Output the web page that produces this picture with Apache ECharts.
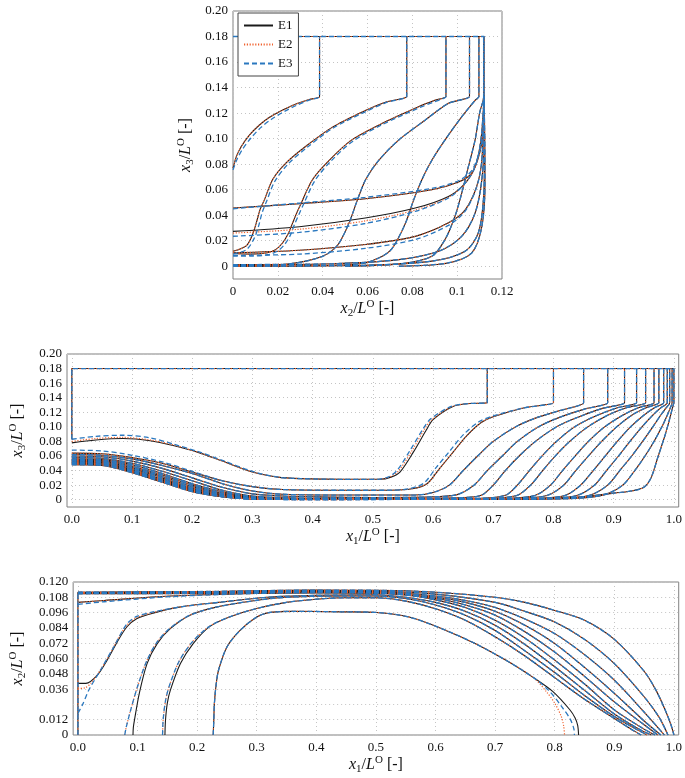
<!DOCTYPE html>
<html>
<head>
<meta charset="utf-8">
<script src="https://cdn.jsdelivr.net/npm/echarts@6/dist/echarts.min.js"></script>
<style>
  html, body { margin: 0; padding: 0; background: #fff; }
  #main { width: 685px; height: 778px; }
</style>
</head>
<body>
<div id="main"></div>
<script>
// ---------- tick values ----------
const topXTicks = [0, 0.02, 0.04, 0.06, 0.08, 0.1, 0.12];
const topYTicks = [0, 0.02, 0.04, 0.06, 0.08, 0.1, 0.12, 0.14, 0.16, 0.18, 0.2];
const midXTicks = [0, 0.1, 0.2, 0.3, 0.4, 0.5, 0.6, 0.7, 0.8, 0.9, 1.0];
const midYTicks = [0, 0.02, 0.04, 0.06, 0.08, 0.1, 0.12, 0.14, 0.16, 0.18, 0.2];
const botXTicks = [0, 0.1, 0.2, 0.3, 0.4, 0.5, 0.6, 0.7, 0.8, 0.9, 1.0];

// ---------- top panel: x2 vs x3 ----------
const topBox = [[0, 0.18], [0.112, 0.18], [0.112, 0.133]];
const topP1 = [[0, 0.0768], [0.0015, 0.0859], [0.0037, 0.0938], [0.0074, 0.1029], [0.0118, 0.1107], [0.0163, 0.1167], [0.0222, 0.1224], [0.0281, 0.1271], [0.034, 0.1307], [0.0386, 0.1328], [0.0386, 0.136], [0.0386, 0.18]];
const topP1e3 = [[0, 0.0755], [0.0017, 0.0835], [0.0042, 0.0915], [0.008, 0.1005], [0.0125, 0.1088], [0.017, 0.115], [0.0228, 0.1212], [0.0285, 0.1262], [0.034, 0.1302], [0.0386, 0.1328], [0.0386, 0.136], [0.0386, 0.18]];
const topP2 = [[0, 0.0117], [0.0059, 0.016], [0.0085, 0.024], [0.0104, 0.034], [0.012, 0.044], [0.014, 0.052], [0.0177, 0.068], [0.0237, 0.081], [0.0325, 0.094], [0.0444, 0.109], [0.059, 0.122], [0.068, 0.1285], [0.0775, 0.133], [0.0775, 0.136], [0.0775, 0.18]];
const topP2e3 = [[0, 0.0095], [0.006, 0.013], [0.0095, 0.022], [0.0115, 0.032], [0.013, 0.042], [0.015, 0.051], [0.0185, 0.066], [0.0245, 0.08], [0.033, 0.093], [0.0444, 0.108], [0.059, 0.121], [0.068, 0.128], [0.0775, 0.133], [0.0775, 0.136], [0.0775, 0.18]];
const topP3 = [[0, 0.01], [0.008, 0.0095], [0.0148, 0.0104], [0.019, 0.013], [0.022, 0.018], [0.0245, 0.025], [0.0266, 0.034], [0.0285, 0.042], [0.0303, 0.049], [0.0355, 0.068], [0.0429, 0.083], [0.053, 0.099], [0.0666, 0.112], [0.0828, 0.125], [0.09, 0.13], [0.095, 0.133], [0.095, 0.136], [0.095, 0.18]];
const topP3e3 = [[0, 0.008], [0.008, 0.008], [0.0155, 0.009], [0.02, 0.012], [0.023, 0.017], [0.0255, 0.024], [0.0275, 0.033], [0.0295, 0.041], [0.0313, 0.048], [0.0365, 0.067], [0.0435, 0.082], [0.0535, 0.098], [0.0666, 0.111], [0.0828, 0.124], [0.09, 0.129], [0.095, 0.133], [0.095, 0.136], [0.095, 0.18]];
const topP4 = [[0, 0.0005], [0.022, 0.0013], [0.0325, 0.004], [0.04, 0.0078], [0.044, 0.012], [0.0473, 0.018], [0.0518, 0.034], [0.0555, 0.052], [0.0592, 0.068], [0.065, 0.083], [0.074, 0.099], [0.0858, 0.1146], [0.096, 0.1276], [0.1055, 0.133], [0.1055, 0.136], [0.1055, 0.18]];
const topP5 = [[0, 0], [0.0444, 0.0008], [0.059, 0.0026], [0.0666, 0.0078], [0.07, 0.012], [0.0725, 0.018], [0.077, 0.034], [0.0806, 0.052], [0.0843, 0.068], [0.0887, 0.083], [0.0946, 0.099], [0.102, 0.117], [0.108, 0.13], [0.1097, 0.133], [0.1097, 0.136], [0.1097, 0.18]];
const topP6 = [[0.05, 0], [0.075, 0.002], [0.0887, 0.0078], [0.0946, 0.021], [0.099, 0.039], [0.102, 0.057], [0.105, 0.078], [0.108, 0.099], [0.11, 0.12], [0.1118, 0.133], [0.1118, 0.136], [0.1118, 0.18]];
const topQ1 = [[0, 0.0456], [0.0296, 0.049], [0.059, 0.0529], [0.0887, 0.06], [0.1006, 0.066], [0.1065, 0.073], [0.11, 0.0885], [0.1115, 0.105], [0.112, 0.133]];
const topQ1e3 = [[0, 0.045], [0.0296, 0.0495], [0.059, 0.054], [0.0887, 0.061], [0.1006, 0.067], [0.1065, 0.075], [0.11, 0.09], [0.1115, 0.106], [0.112, 0.133]];
const topQ2 = [[0, 0.0273], [0.0296, 0.031], [0.059, 0.0378], [0.0813, 0.0456], [0.0961, 0.0547], [0.1035, 0.065], [0.108, 0.078], [0.1106, 0.099], [0.112, 0.133]];
const topQ2e2 = [[0, 0.026], [0.0296, 0.029], [0.059, 0.0355], [0.0813, 0.044], [0.0961, 0.054], [0.1035, 0.065], [0.108, 0.078], [0.1106, 0.099], [0.112, 0.133]];
const topQ2e3 = [[0, 0.0235], [0.0296, 0.0265], [0.059, 0.0335], [0.0813, 0.043], [0.0961, 0.0535], [0.1035, 0.065], [0.108, 0.078], [0.1106, 0.099], [0.112, 0.133]];
const topQ3 = [[0, 0.0105], [0.0296, 0.0125], [0.059, 0.017], [0.0813, 0.0234], [0.0961, 0.034], [0.1035, 0.044], [0.1087, 0.0625], [0.111, 0.083], [0.112, 0.133]];
const topQ3e3 = [[0, 0.0085], [0.0296, 0.0095], [0.059, 0.014], [0.0813, 0.021], [0.0961, 0.032], [0.1035, 0.043], [0.1087, 0.062], [0.111, 0.083], [0.112, 0.133]];
const topQ4 = [[0, 0.0013], [0.0444, 0.002], [0.074, 0.0052], [0.0917, 0.0117], [0.102, 0.0234], [0.108, 0.0417], [0.111, 0.0677], [0.112, 0.1], [0.112, 0.133]];
const topQ5 = [[0, 0], [0.059, 0.0008], [0.0887, 0.004], [0.1035, 0.0117], [0.1094, 0.026], [0.1117, 0.052], [0.1122, 0.09], [0.112, 0.133]];
const topQ6 = [[0.074, 0], [0.096, 0.0026], [0.1065, 0.0104], [0.111, 0.031], [0.1124, 0.065], [0.1123, 0.1], [0.112, 0.133]];

// ---------- middle panel: x1 vs x3 ----------
const midBox = [[0, 0.083], [0, 0.18], [1.0, 0.18], [1.0, 0.133]];
const midA = [[0, 0.078], [0.04, 0.082], [0.085, 0.084], [0.13, 0.081], [0.17, 0.074], [0.21, 0.065], [0.25, 0.053], [0.3, 0.038], [0.342, 0.031], [0.38, 0.029], [0.45, 0.028], [0.512, 0.028], [0.53, 0.031], [0.545, 0.038], [0.567, 0.065], [0.589, 0.096], [0.6, 0.11], [0.633, 0.128], [0.66, 0.132], [0.69, 0.133], [0.69, 0.136], [0.69, 0.18]];
const midAe2 = [[0, 0.08], [0.04, 0.084], [0.085, 0.0855], [0.13, 0.082], [0.17, 0.075], [0.21, 0.065], [0.25, 0.053], [0.3, 0.038], [0.342, 0.031], [0.38, 0.029], [0.45, 0.028], [0.508, 0.028], [0.527, 0.031], [0.542, 0.039], [0.564, 0.066], [0.586, 0.097], [0.598, 0.11], [0.632, 0.128], [0.66, 0.132], [0.69, 0.133], [0.69, 0.136], [0.69, 0.18]];
const midAe3 = [[0, 0.083], [0.04, 0.087], [0.085, 0.0885], [0.13, 0.085], [0.17, 0.076], [0.21, 0.066], [0.25, 0.054], [0.3, 0.039], [0.342, 0.031], [0.38, 0.029], [0.45, 0.028], [0.505, 0.028], [0.525, 0.031], [0.54, 0.04], [0.562, 0.068], [0.584, 0.098], [0.596, 0.111], [0.63, 0.128], [0.66, 0.132], [0.69, 0.133], [0.69, 0.136], [0.69, 0.18]];
const midB = [[0, 0.064], [0.05, 0.063], [0.1, 0.058], [0.15, 0.05], [0.2, 0.038], [0.25, 0.026], [0.3, 0.018], [0.35, 0.014], [0.45, 0.013], [0.53, 0.013], [0.565, 0.015], [0.59, 0.022], [0.61, 0.042], [0.633, 0.065], [0.655, 0.087], [0.68, 0.106], [0.7, 0.114], [0.75, 0.126], [0.8, 0.133], [0.8, 0.136], [0.8, 0.18]];
const midBe3 = [[0, 0.068], [0.05, 0.067], [0.1, 0.061], [0.15, 0.052], [0.2, 0.039], [0.25, 0.026], [0.3, 0.018], [0.35, 0.014], [0.45, 0.013], [0.525, 0.013], [0.56, 0.015], [0.585, 0.023], [0.605, 0.044], [0.628, 0.067], [0.65, 0.089], [0.676, 0.107], [0.7, 0.115], [0.75, 0.126], [0.8, 0.133], [0.8, 0.136], [0.8, 0.18]];
const midC = [[0, 0.062], [0.05, 0.061], [0.1, 0.056], [0.15, 0.047], [0.2, 0.036], [0.25, 0.022], [0.3, 0.012], [0.35, 0.0075], [0.45, 0.0064], [0.57, 0.0064], [0.6, 0.01], [0.627, 0.02], [0.65, 0.04], [0.674, 0.06], [0.7, 0.08], [0.737, 0.1], [0.77, 0.112], [0.809, 0.122], [0.85, 0.133], [0.85, 0.136], [0.85, 0.18]];
const midD = [[0, 0.06], [0.05, 0.059], [0.1, 0.053], [0.15, 0.043], [0.2, 0.03], [0.25, 0.017], [0.3, 0.008], [0.35, 0.005], [0.4, 0.004], [0.5, 0.003], [0.6, 0.004], [0.64, 0.007], [0.668, 0.02], [0.69, 0.04], [0.715, 0.06], [0.74, 0.08], [0.775, 0.1], [0.81, 0.113], [0.85, 0.124], [0.89, 0.133], [0.89, 0.136], [0.89, 0.18]];
const midE = [[0, 0.058], [0.05, 0.057], [0.1, 0.05], [0.15, 0.039], [0.2, 0.026], [0.25, 0.013], [0.3, 0.005], [0.4, 0.002], [0.55, 0.002], [0.65, 0.003], [0.68, 0.006], [0.7, 0.02], [0.72, 0.04], [0.743, 0.06], [0.77, 0.08], [0.805, 0.1], [0.84, 0.113], [0.88, 0.125], [0.918, 0.133], [0.918, 0.136], [0.918, 0.18]];
const midF = [[0, 0.056], [0.05, 0.055], [0.1, 0.048], [0.15, 0.036], [0.2, 0.022], [0.25, 0.011], [0.3, 0.004], [0.4, 0.0015], [0.6, 0.0015], [0.68, 0.002], [0.72, 0.006], [0.74, 0.02], [0.76, 0.04], [0.781, 0.06], [0.805, 0.08], [0.835, 0.1], [0.87, 0.115], [0.905, 0.126], [0.938, 0.133], [0.938, 0.136], [0.938, 0.18]];
const midG = [[0, 0.055], [0.05, 0.054], [0.1, 0.046], [0.15, 0.034], [0.2, 0.02], [0.25, 0.009], [0.3, 0.003], [0.4, 0.001], [0.6, 0.001], [0.7, 0.002], [0.74, 0.006], [0.762, 0.02], [0.782, 0.04], [0.803, 0.06], [0.827, 0.08], [0.857, 0.1], [0.89, 0.116], [0.92, 0.126], [0.953, 0.133], [0.953, 0.136], [0.953, 0.18]];
const midH = [[0, 0.054], [0.05, 0.053], [0.1, 0.044], [0.15, 0.032], [0.2, 0.018], [0.25, 0.008], [0.3, 0.002], [0.4, 0.0008], [0.65, 0.001], [0.73, 0.002], [0.77, 0.006], [0.795, 0.02], [0.815, 0.04], [0.836, 0.06], [0.858, 0.08], [0.885, 0.1], [0.915, 0.116], [0.94, 0.126], [0.967, 0.133], [0.967, 0.136], [0.967, 0.18]];
const midI = [[0, 0.053], [0.05, 0.052], [0.1, 0.043], [0.15, 0.03], [0.2, 0.016], [0.25, 0.007], [0.3, 0.002], [0.4, 0.0006], [0.68, 0.001], [0.75, 0.002], [0.79, 0.006], [0.817, 0.02], [0.837, 0.04], [0.858, 0.06], [0.88, 0.08], [0.905, 0.1], [0.93, 0.116], [0.953, 0.126], [0.975, 0.133], [0.975, 0.136], [0.975, 0.18]];
const midJ = [[0, 0.052], [0.05, 0.051], [0.1, 0.041], [0.15, 0.028], [0.2, 0.015], [0.25, 0.006], [0.3, 0.0015], [0.4, 0.0005], [0.7, 0.001], [0.78, 0.002], [0.82, 0.006], [0.845, 0.02], [0.866, 0.04], [0.886, 0.06], [0.906, 0.08], [0.928, 0.1], [0.95, 0.116], [0.967, 0.126], [0.983, 0.133], [0.983, 0.136], [0.983, 0.18]];
const midK = [[0, 0.051], [0.05, 0.05], [0.1, 0.04], [0.15, 0.027], [0.2, 0.014], [0.25, 0.005], [0.3, 0.001], [0.4, 0.0004], [0.72, 0.001], [0.8, 0.002], [0.84, 0.006], [0.868, 0.02], [0.888, 0.04], [0.908, 0.06], [0.927, 0.08], [0.947, 0.1], [0.965, 0.116], [0.978, 0.126], [0.989, 0.133], [0.989, 0.136], [0.989, 0.18]];
const midL = [[0, 0.05], [0.05, 0.049], [0.1, 0.039], [0.15, 0.026], [0.2, 0.013], [0.25, 0.005], [0.3, 0.001], [0.4, 0.0003], [0.74, 0.001], [0.82, 0.002], [0.86, 0.006], [0.89, 0.02], [0.91, 0.04], [0.93, 0.06], [0.948, 0.08], [0.965, 0.1], [0.978, 0.116], [0.987, 0.126], [0.993, 0.133], [0.993, 0.136], [0.993, 0.18]];
const midM = [[0, 0.049], [0.05, 0.048], [0.1, 0.038], [0.15, 0.025], [0.2, 0.012], [0.25, 0.004], [0.3, 0.001], [0.4, 0.0002], [0.76, 0.001], [0.84, 0.002], [0.885, 0.007], [0.915, 0.02], [0.935, 0.04], [0.952, 0.06], [0.967, 0.08], [0.98, 0.1], [0.989, 0.116], [0.994, 0.126], [0.997, 0.133], [0.997, 0.136], [0.997, 0.18]];
const midN = [[0, 0.048], [0.05, 0.047], [0.1, 0.037], [0.15, 0.024], [0.2, 0.011], [0.25, 0.004], [0.3, 0.001], [0.4, 0.0002], [0.7, 0.001], [0.8, 0.002], [0.85, 0.004], [0.9, 0.009], [0.93, 0.012], [0.95, 0.017], [0.962, 0.03], [0.974, 0.06], [0.984, 0.085], [0.992, 0.108], [0.997, 0.124], [1.0, 0.133]];

// ---------- bottom panel: x1 vs x2 ----------
const botWall = [[0, 0], [0, 0.112]];
const botS1 = [[0.227, 0], [0.228, 0.012], [0.229, 0.025], [0.232, 0.04], [0.236, 0.051], [0.25, 0.069], [0.272, 0.082], [0.3, 0.0925], [0.32, 0.096], [0.36, 0.097], [0.4457, 0.0966], [0.5006, 0.0961], [0.5556, 0.0925], [0.6105, 0.0834], [0.6654, 0.072], [0.7204, 0.058], [0.7643, 0.045], [0.797, 0.034], [0.825, 0.02], [0.834, 0.0135], [0.8385, 0.0075], [0.84, 0]];
const botS1e2 = [[0.227, 0], [0.228, 0.012], [0.229, 0.025], [0.232, 0.04], [0.236, 0.051], [0.25, 0.069], [0.272, 0.082], [0.3, 0.0925], [0.32, 0.096], [0.36, 0.097], [0.4457, 0.0966], [0.5006, 0.0961], [0.5556, 0.0925], [0.6105, 0.0834], [0.6654, 0.072], [0.7204, 0.058], [0.7643, 0.045], [0.786, 0.034], [0.8, 0.025], [0.811, 0.0145], [0.815, 0.007], [0.8165, 0]];
const botS1e3 = [[0.227, 0], [0.228, 0.012], [0.229, 0.025], [0.232, 0.04], [0.236, 0.051], [0.25, 0.069], [0.272, 0.082], [0.3, 0.0925], [0.32, 0.096], [0.36, 0.097], [0.4457, 0.0966], [0.5006, 0.0961], [0.5556, 0.0925], [0.6105, 0.0834], [0.6654, 0.072], [0.7204, 0.058], [0.7643, 0.045], [0.79, 0.035], [0.812, 0.022], [0.826, 0.0125], [0.832, 0.005], [0.833, 0]];
const botS2 = [[0.146, 0], [0.147, 0.012], [0.15, 0.025], [0.155, 0.035], [0.172, 0.056], [0.194, 0.072], [0.221, 0.085], [0.254, 0.0925], [0.298, 0.099], [0.35, 0.104], [0.4, 0.1065], [0.45, 0.1076], [0.5, 0.1076], [0.55, 0.105], [0.6, 0.099], [0.65, 0.09], [0.7, 0.077], [0.75, 0.062], [0.8, 0.045], [0.85, 0.028], [0.9, 0.013], [0.93, 0.004], [0.945, 0]];
const botS2e3 = [[0.142, 0], [0.143, 0.012], [0.147, 0.027], [0.153, 0.038], [0.17, 0.058], [0.192, 0.073], [0.22, 0.085], [0.254, 0.0925], [0.298, 0.099], [0.35, 0.104], [0.4, 0.1065], [0.45, 0.1076], [0.5, 0.1076], [0.55, 0.105], [0.6, 0.099], [0.65, 0.09], [0.7, 0.077], [0.75, 0.062], [0.8, 0.045], [0.85, 0.028], [0.9, 0.013], [0.93, 0.004], [0.945, 0]];
const botS3 = [[0.0924, 0], [0.093, 0.006], [0.095, 0.012], [0.103, 0.0327], [0.116, 0.056], [0.133, 0.0717], [0.155, 0.0834], [0.188, 0.094], [0.232, 0.1003], [0.298, 0.1055], [0.35, 0.108], [0.45, 0.109], [0.5, 0.109], [0.55, 0.107], [0.6, 0.102], [0.65, 0.094], [0.7, 0.082], [0.75, 0.066], [0.8, 0.049], [0.85, 0.031], [0.9, 0.0145], [0.935, 0.005], [0.955, 0]];
const botS3e3 = [[0.0786, 0], [0.081, 0.006], [0.087, 0.017], [0.1, 0.038], [0.116, 0.0587], [0.133, 0.073], [0.155, 0.084], [0.188, 0.094], [0.232, 0.1003], [0.298, 0.1055], [0.35, 0.108], [0.45, 0.109], [0.5, 0.109], [0.55, 0.107], [0.6, 0.102], [0.65, 0.094], [0.7, 0.082], [0.75, 0.066], [0.8, 0.049], [0.85, 0.031], [0.9, 0.0145], [0.935, 0.005], [0.955, 0]];
const botS4 = [[0, 0.0405], [0.0134, 0.0405], [0.0326, 0.047], [0.049, 0.0587], [0.066, 0.073], [0.082, 0.0847], [0.0985, 0.0912], [0.126, 0.0956], [0.17, 0.1003], [0.236, 0.104], [0.318, 0.108], [0.4, 0.1095], [0.5, 0.11], [0.55, 0.108], [0.6, 0.104], [0.65, 0.097], [0.7, 0.086], [0.75, 0.071], [0.8, 0.0535], [0.85, 0.035], [0.9, 0.0165], [0.94, 0.005], [0.962, 0]];
const botS4e2 = [[0, 0.0365], [0.012, 0.037], [0.0216, 0.0405], [0.0326, 0.0475], [0.049, 0.0595], [0.066, 0.0745], [0.082, 0.086], [0.0985, 0.092], [0.126, 0.096], [0.17, 0.1003], [0.236, 0.104], [0.318, 0.108], [0.4, 0.1095], [0.5, 0.11], [0.55, 0.108], [0.6, 0.104], [0.65, 0.097], [0.7, 0.086], [0.75, 0.071], [0.8, 0.0535], [0.85, 0.035], [0.9, 0.0165], [0.94, 0.005], [0.962, 0]];
const botS4e3 = [[0, 0.017], [0.008, 0.024], [0.0183, 0.0353], [0.038, 0.051], [0.06, 0.069], [0.082, 0.087], [0.0985, 0.093], [0.126, 0.0965], [0.17, 0.1003], [0.236, 0.104], [0.318, 0.108], [0.4, 0.1095], [0.5, 0.11], [0.55, 0.108], [0.6, 0.104], [0.65, 0.097], [0.7, 0.086], [0.75, 0.071], [0.8, 0.0535], [0.85, 0.035], [0.9, 0.0165], [0.94, 0.005], [0.962, 0]];
const botS5 = [[0, 0.104], [0.044, 0.1055], [0.155, 0.109], [0.298, 0.111], [0.4, 0.1115], [0.5, 0.1112], [0.55, 0.11], [0.6, 0.106], [0.65, 0.1], [0.7, 0.09], [0.75, 0.076], [0.8, 0.0587], [0.85, 0.04], [0.9, 0.0197], [0.945, 0.006], [0.968, 0]];
const botS5e3 = [[0, 0.1025], [0.044, 0.1045], [0.155, 0.1085], [0.298, 0.111], [0.4, 0.1115], [0.5, 0.1112], [0.55, 0.11], [0.6, 0.106], [0.65, 0.1], [0.7, 0.09], [0.75, 0.076], [0.8, 0.0587], [0.85, 0.04], [0.9, 0.0197], [0.945, 0.006], [0.968, 0]];
const botT5 = [[0, 0.1108], [0.2, 0.111], [0.4, 0.112], [0.5, 0.1115], [0.6, 0.107], [0.65, 0.102], [0.7, 0.094], [0.75, 0.081], [0.8, 0.065], [0.85, 0.046], [0.9, 0.026], [0.95, 0.008], [0.973, 0]];
const botT6 = [[0, 0.1112], [0.2, 0.1115], [0.4, 0.1125], [0.5, 0.112], [0.6, 0.108], [0.65, 0.104], [0.7, 0.097], [0.75, 0.086], [0.8, 0.0717], [0.85, 0.053], [0.9, 0.0327], [0.95, 0.011], [0.978, 0]];
const botT7 = [[0, 0.1115], [0.2, 0.112], [0.4, 0.113], [0.5, 0.1125], [0.6, 0.109], [0.65, 0.1055], [0.7, 0.1], [0.75, 0.091], [0.8, 0.0795], [0.85, 0.063], [0.9, 0.043], [0.95, 0.018], [0.984, 0]];
const botT8 = [[0, 0.1118], [0.2, 0.1122], [0.4, 0.1133], [0.5, 0.113], [0.6, 0.1105], [0.7, 0.104], [0.75, 0.097], [0.8, 0.0886], [0.85, 0.075], [0.9, 0.056], [0.95, 0.03], [0.975, 0.014], [0.99, 0]];
const botT9 = [[0, 0.112], [0.2, 0.1125], [0.4, 0.1136], [0.5, 0.1135], [0.6, 0.112], [0.7, 0.108], [0.75, 0.104], [0.8, 0.0977], [0.85, 0.09], [0.9, 0.075], [0.95, 0.05], [0.97, 0.035], [0.985, 0.02], [0.995, 0.008], [1.0, 0]];

// each entry: [E1, E2, E3]
const topCurves = [
  [topBox, topBox, topBox],
  [topP1, topP1, topP1e3], [topP2, topP2, topP2e3], [topP3, topP3, topP3e3],
  [topP4, topP4, topP4], [topP5, topP5, topP5], [topP6, topP6, topP6],
  [topQ1, topQ1, topQ1e3], [topQ2, topQ2e2, topQ2e3], [topQ3, topQ3, topQ3e3],
  [topQ4, topQ4, topQ4], [topQ5, topQ5, topQ5], [topQ6, topQ6, topQ6]
];
const midCurves = [
  [midBox, midBox, midBox],
  [midA, midAe2, midAe3], [midB, midB, midBe3],
  [midC, midC, midC], [midD, midD, midD], [midE, midE, midE], [midF, midF, midF],
  [midG, midG, midG], [midH, midH, midH], [midI, midI, midI], [midJ, midJ, midJ],
  [midK, midK, midK], [midL, midL, midL], [midM, midM, midM], [midN, midN, midN]
];
const botCurves = [
  [botWall, botWall, botWall],
  [botS1, botS1e2, botS1e3], [botS2, botS2e3, botS2e3], [botS3, botS3e3, botS3e3],
  [botS4, botS4e2, botS4e3], [botS5, botS5, botS5e3],
  [botT5, botT5, botT5], [botT6, botT6, botT6], [botT7, botT7, botT7],
  [botT8, botT8, botT8], [botT9, botT9, botT9]
];

const FONT = "'Liberation Serif', 'DejaVu Serif', serif";
const names = ["E1", "E2", "E3"];
const styles = [
  { color: "#1a1a1a", width: 1.1, type: "solid" },
  { color: "#f0622e", width: 1.2, type: [1.2, 1.6] },
  { color: "#2a78bf", width: 1.3, type: [5, 3] }
];

const series = [];
const panels = [topCurves, midCurves, botCurves];
for (let v = 0; v < 3; v++) {
  panels.forEach((curves, p) => {
    curves.forEach(c => {
      series.push({
        name: names[v],
        type: "line",
        xAxisIndex: p,
        yAxisIndex: p,
        data: c[v],
        smooth: 0.3,
        symbol: "none",
        silent: true,
        color: styles[v].color,
        lineStyle: { color: styles[v].color, width: styles[v].width, type: styles[v].type }
      });
    });
  });
}

const rich = {
  i: { fontFamily: FONT, fontStyle: "italic", fontSize: 16, lineHeight: 20, color: "#111" },
  n: { fontFamily: FONT, fontSize: 16, lineHeight: 20, color: "#111" },
  sub: { fontFamily: FONT, fontSize: 11, lineHeight: 11, verticalAlign: "bottom", color: "#111" },
  sup: { fontFamily: FONT, fontSize: 11, lineHeight: 11, verticalAlign: "top", color: "#111" }
};
const title = (d) => "{i|x}{sub|" + d + "}{n|/}{i|L}{sup|O}{n| [-]}";

const splitLine = { show: true, lineStyle: { color: "#c4c4c4", type: [1, 3], width: 1 } };
const labelStyle = { fontFamily: FONT, fontSize: 13, color: "#111" };
const f2 = v => (v === 0 ? "0" : v.toFixed(2));

const chart = echarts.init(document.getElementById("main"));
chart.setOption({
  animation: false,
  backgroundColor: "#fff",
  legend: {
    data: names,
    orient: "vertical",
    left: 238,
    top: 13,
    itemWidth: 29,
    itemHeight: 12,
    itemGap: 6,
    padding: [6, 6, 6, 5],
    backgroundColor: "#fff",
    borderColor: "#444",
    borderWidth: 1,
    itemStyle: { opacity: 0 },
    textStyle: { fontFamily: FONT, fontSize: 13, color: "#111" },
    selectedMode: false
  },
  grid: [
    { left: 233, top: 11, width: 269, height: 268, show: true, borderColor: "#808080", borderWidth: 1 },
    { left: 64, top: 354, width: 617, height: 153, show: true, borderColor: "#808080", borderWidth: 1 },
    { left: 65, top: 582, width: 616, height: 153, show: true, borderColor: "#808080", borderWidth: 1 }
  ],
  xAxis: [
    {
      gridIndex: 0, type: "value", min: 0, max: 0.12, interval: 0.02,
      axisLine: { show: false }, axisTick: { show: false }, splitLine,
      axisLabel: { ...labelStyle, margin: 6, formatter: v => (v === 0 ? "0" : String(+v.toFixed(2))) },
      name: title(2), nameLocation: "middle", nameGap: 20, nameTextStyle: { rich }
    },
    {
      gridIndex: 1, type: "value", min: -0.008, max: 1.008,
      axisLine: { show: false }, axisTick: { show: false, customValues: midXTicks }, splitLine,
      axisLabel: { ...labelStyle, margin: 6, customValues: midXTicks, formatter: v => v.toFixed(1) },
      name: title(1), nameLocation: "middle", nameGap: 18, nameTextStyle: { rich }
    },
    {
      gridIndex: 2, type: "value", min: -0.008, max: 1.008,
      axisLine: { show: false }, axisTick: { show: false, customValues: botXTicks }, splitLine,
      axisLabel: { ...labelStyle, margin: 6, customValues: botXTicks, formatter: v => v.toFixed(1) },
      name: title(1), nameLocation: "middle", nameGap: 20, nameTextStyle: { rich }
    }
  ],
  yAxis: [
    {
      gridIndex: 0, type: "value", min: -0.01, max: 0.2,
      axisLine: { show: false }, axisTick: { show: false, customValues: topYTicks }, splitLine,
      axisLabel: { ...labelStyle, margin: 5, customValues: topYTicks, formatter: f2 },
      name: title(3), nameLocation: "middle", nameGap: 37, nameTextStyle: { rich }
    },
    {
      gridIndex: 1, type: "value", min: -0.01, max: 0.2,
      axisLine: { show: false }, axisTick: { show: false, customValues: midYTicks }, splitLine,
      axisLabel: { ...labelStyle, margin: 5, customValues: midYTicks, formatter: f2 },
      name: title(3), nameLocation: "middle", nameGap: 39, nameTextStyle: { rich }
    },
    {
      gridIndex: 2, type: "value", min: 0, max: 0.12, interval: 0.012,
      axisLine: { show: false }, axisTick: { show: false }, splitLine,
      axisLabel: {
        ...labelStyle, margin: 5,
        formatter: v => (v === 0 ? "0" : Math.abs(v - 0.024) < 1e-9 ? "" : v.toFixed(3))
      },
      name: title(2), nameLocation: "middle", nameGap: 43, nameTextStyle: { rich }
    }
  ],
  series
});
</script>
</body>
</html>
